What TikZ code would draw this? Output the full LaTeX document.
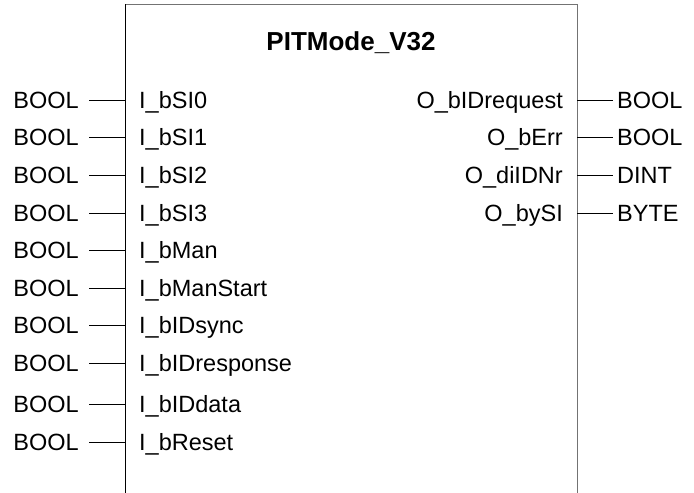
\documentclass[tikz,border=0pt]{standalone}
\usepackage{fontspec}
\setmainfont{Liberation Sans}
\usepackage{tikz}
\usetikzlibrary{positioning}
\tikzset{
  fbline/.style={line width=1pt},
  pinlbl/.style={inner sep=0pt, text height=16.8pt, text depth=0pt,
                 font=\fontsize{23.5}{28}\selectfont},
  intype/.style={pinlbl, anchor=east, inner xsep=10pt},
  outtype/.style={pinlbl, anchor=west, inner xsep=4pt},
  wire/.style={line width=0.8pt},
}

\begin{document}
\begin{tikzpicture}[x=1pt, y=-1pt]
  \useasboundingbox (0,0) rectangle (694,493);
  \draw[fbline, black!55] (125,4) -- (577,4) -- (577,493);
  \draw[fbline] (125,4) -- (125,493);
  \node[font=\fontsize{26}{30}\selectfont\bfseries] (title) at (351,43) {PITMode\_V32};
  % inputs
  \foreach \lbl/\yy [count=\i] in {I\_bSI0/100, I\_bSI1/137.5, I\_bSI2/175, I\_bSI3/213,
      I\_bMan/250, I\_bManStart/288, I\_bIDsync/325, I\_bIDresponse/363,
      I\_bIDdata/404, I\_bReset/442} {
    \coordinate (inP\i) at (125,\yy);
    \node[pinlbl, anchor=west] (inN\i) at (139,\yy) {\lbl};
    \node[intype] (inT\i) at (89,\yy) {BOOL};
    \draw[wire] (inT\i) -- (inP\i);
  }
  % outputs
  \foreach \lbl/\typ/\yy [count=\i] in {O\_bIDrequest/BOOL/100, O\_bErr/BOOL/137.5,
      O\_diIDNr/DINT/175, O\_bySI/BYTE/213} {
    \coordinate (outP\i) at (577,\yy);
    \node[pinlbl, anchor=east] (outN\i) at (563,\yy) {\lbl};
    \node[outtype] (outT\i) at (613,\yy) {\typ};
    \draw[wire] (outP\i) -- (outT\i);
  }
\end{tikzpicture}
\end{document}
